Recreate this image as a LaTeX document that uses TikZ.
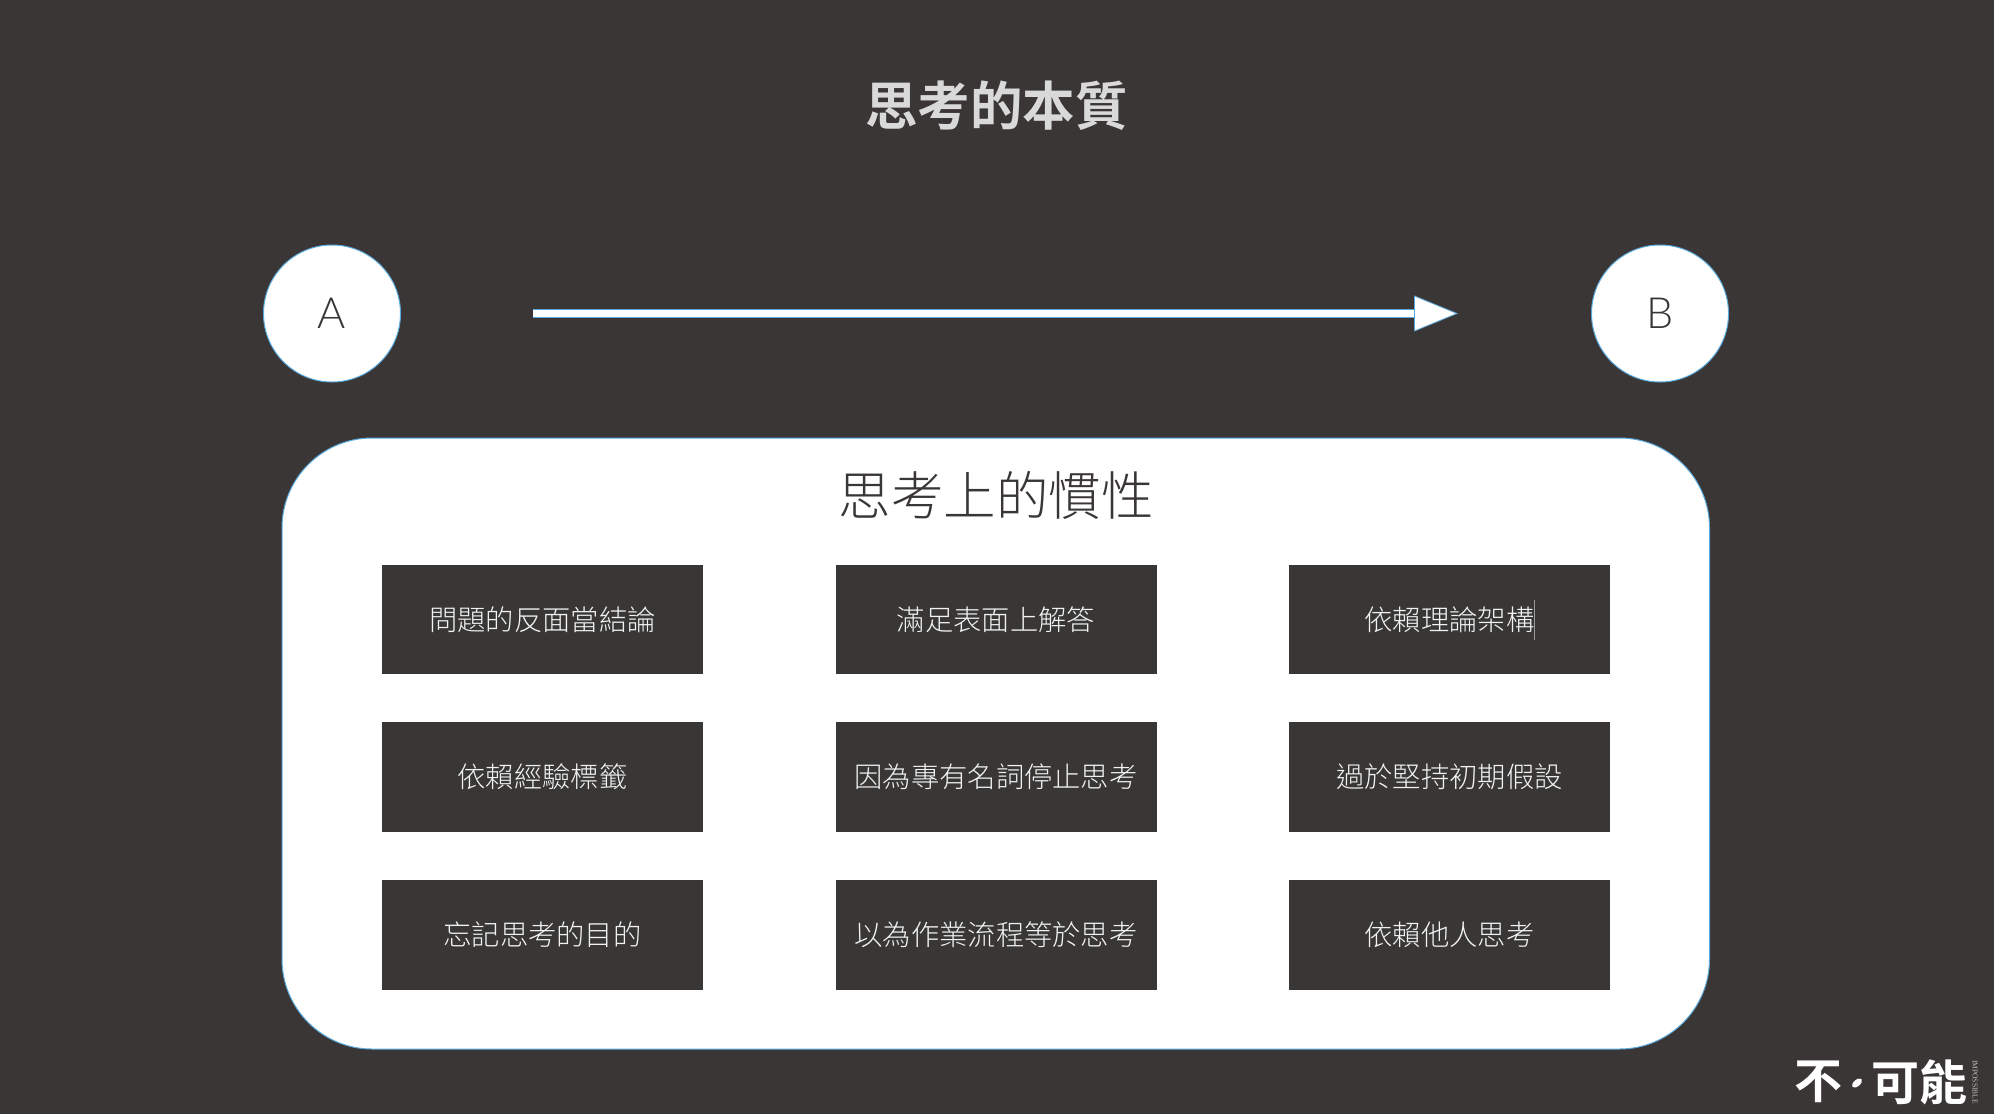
\documentclass[tikz,border=0pt]{standalone}
\usepackage{fontspec}
\usepackage{tikz}
\usetikzlibrary{arrows.meta}
\setmainfont{Lato Light}
\newfontfamily\cjklight{Noto Sans CJK TC Light}
\newfontfamily\cjkmedium{Noto Sans CJK TC Medium}
\newfontfamily\cjkbold{Noto Sans CJK TC Bold}
\newfontfamily\logoserif{Liberation Serif}
\definecolor{ground}{HTML}{3A3636}
\definecolor{boxfill}{HTML}{383736}
\definecolor{edgeblue}{HTML}{5AA9DC}

\begin{document}
\begin{tikzpicture}[x=1pt, y=1pt, node distance={453.5pt},
  main/.style = {draw=none, fill=boxfill, text=white!95!black, minimum width=321pt, minimum height=109.5pt, inner sep=0pt, font=\cjklight\fontsize{28.3}{28.3}\selectfont},
  ball/.style = {draw=edgeblue, fill=white, circle, line width=1pt, minimum size=137pt, inner sep=0pt, text=ground, font=\fontsize{43}{43}\selectfont}]
\useasboundingbox (0,0) rectangle (1994,-1114);
\fill[ground] (0,0) rectangle (1994,-1114);

\node[inner sep=0pt, text=white!85!black, font=\cjkbold\fontsize{52.5}{52.5}\selectfont] (title) at (996.5,-106) {思考的本質};

\node[ball] (a) at (332,-313.5) {A};
\node[ball] (b) at (1660,-313.5) {B};
\draw[edgeblue, line width=0.8pt, double=white, double distance=7.5pt, shorten <=132pt, shorten >=133pt,
      -{Triangle[length=44pt,width=36pt,fill=white,line width=0.8pt]}] (a) -- (b);

\node[draw=edgeblue, fill=white, line width=1pt, rounded corners=90pt, minimum width=1427.5pt, minimum height=611pt, inner sep=0pt] (panel) at (995.75,-743.5) {};
\node[inner sep=0pt, text=ground, font=\cjklight\fontsize{52.5}{52.5}\selectfont] (head) at (996,-495.5) {思考上的慣性};

\node[main] (1) at (542.5,-619.5) {問題的反面當結論};
\node[main] (2) [right of=1] {滿足表面上解答};
\node[main] (3) [right of=2] {依賴理論架構};
\node[main] (4) [below of=1, node distance=157.5pt] {依賴經驗標籤};
\node[main] (5) [right of=4] {因為專有名詞停止思考};
\node[main] (6) [right of=5] {過於堅持初期假設};
\node[main] (7) [below of=4, node distance=158pt] {忘記思考的目的};
\node[main] (8) [right of=7] {以為作業流程等於思考};
\node[main] (9) [right of=8] {依賴他人思考};

% caret after the text
\fill[white!60!black] (1533.5,-600) rectangle (1535,-640);

% logo
\node[inner sep=0pt, text=white, font=\cjkbold\fontsize{48}{48}\selectfont] (logo1) at (1818,-1082) {不};
\node[inner sep=0pt, text=white, font=\cjkbold\fontsize{48}{48}\selectfont] (logo2) at (1919,-1082) {可能};
\fill[white, rotate around={40:(1857,-1083)}] (1857,-1083) ellipse (6 and 3.2);
\node[inner sep=0pt, rotate=-90, text=white!75!black, font=\logoserif\fontsize{7.5}{7.5}\selectfont] (logo3) at (1975,-1082) {IMPOSSIBLE};
\end{tikzpicture}
\end{document}
